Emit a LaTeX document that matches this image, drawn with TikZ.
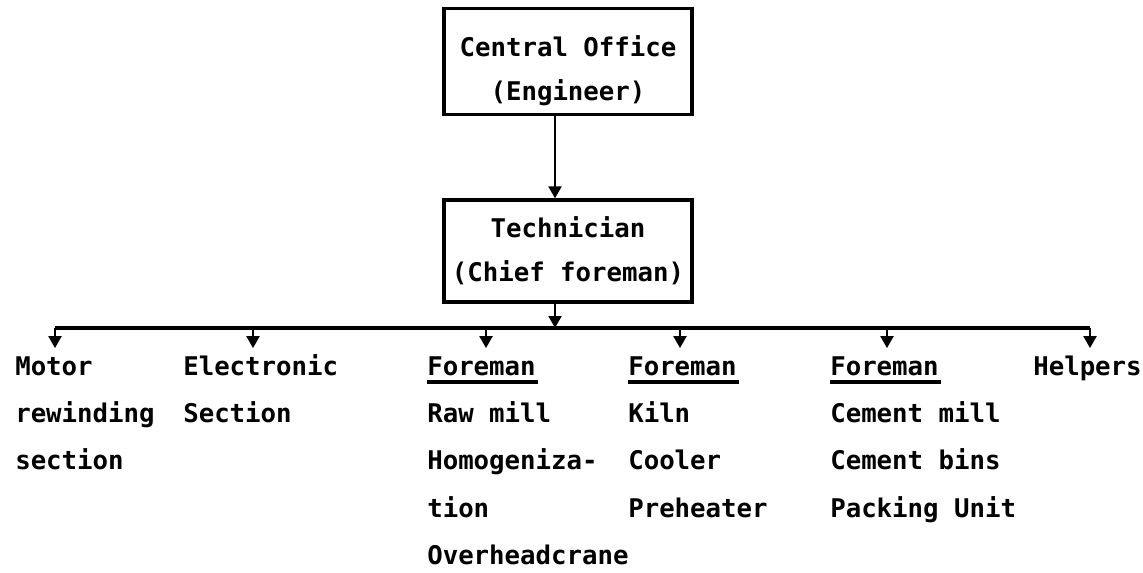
\documentclass[tikz,border=0pt]{standalone}
\usepackage{fontspec}
\setmonofont{DejaVu Sans Mono}
\usetikzlibrary{arrows.meta}
\newcommand\ulw[1]{\setbox0=\hbox{#1}\rlap{\rule[-6.4pt]{\dimexpr\wd0+2pt\relax}{2.3pt}}\box0}
\begin{document}
\begin{tikzpicture}[x=0.75pt,y=-0.75pt,
  every node/.style={font=\ttfamily\bfseries\fontsize{19.3pt}{35.6pt}\selectfont},
  box/.style={draw, line width=2.4pt, minimum width=186pt, align=center, inner sep=0pt,
    font=\ttfamily\bfseries\fontsize{19.3pt}{33pt}\selectfont},
  col/.style={anchor=base west, inner sep=0pt},
  arr/.style={line width=2.2pt, -{Triangle[length=9pt,width=9.5pt]}},
  drop/.style={arr, shorten >=-5pt},
  ln/.style={line width=2.4pt}]
\useasboundingbox (0,0) rectangle (1143,572);

% boxes
\node[box, minimum height=80pt] (co) at (568,61.5) {\rule{0pt}{30pt}Central Office\\(Engineer)};
\node[box, minimum height=76.5pt] (tech) at (568,251) {Technician\\(Chief foreman)};

% columns
\node[col] (c1) at (15,375) {\begin{tabular}[t]{@{}l@{}}Motor\\rewinding\\section\end{tabular}};
\node[col] (c2) at (183,375) {\begin{tabular}[t]{@{}l@{}}Electronic\\Section\end{tabular}};
\node[col] (c3) at (427,375) {\begin{tabular}[t]{@{}l@{}}\ulw{Foreman}\\Raw mill\\Homogeniza-\\tion\\Overheadcrane\end{tabular}};
\node[col] (c4) at (628,375) {\begin{tabular}[t]{@{}l@{}}\ulw{Foreman}\\Kiln\\Cooler\\Preheater\end{tabular}};
\node[col] (c5) at (830,375) {\begin{tabular}[t]{@{}l@{}}\ulw{Foreman}\\Cement mill\\Cement bins\\Packing Unit\end{tabular}};
\node[col] (c6) at (1033,375) {\begin{tabular}[t]{@{}l@{}}Helpers\end{tabular}};

% coordinates
\coordinate (stem) at (555,0);
\coordinate (bar) at (0,328);
\coordinate (t1) at (55,0);
\coordinate (t2) at (253,0);
\coordinate (t3) at (486,0);
\coordinate (t4) at (680,0);
\coordinate (t5) at (887,0);
\coordinate (t6) at (1090,0);

% connectors
\draw[arr] (co.south -| stem) -- (tech.north -| stem);
\draw[arr] (tech.south -| stem) -- (stem |- bar);
\draw[ln] (t1 |- bar) -- (t6 |- bar);
\draw[drop] (t1 |- bar) -- (t1 |- c1.north);
\draw[drop] (t2 |- bar) -- (t2 |- c2.north);
\draw[drop] (t3 |- bar) -- (t3 |- c3.north);
\draw[drop] (t4 |- bar) -- (t4 |- c4.north);
\draw[drop] (t5 |- bar) -- (t5 |- c5.north);
\draw[drop] (t6 |- bar) -- (t6 |- c6.north);
\end{tikzpicture}
\end{document}
